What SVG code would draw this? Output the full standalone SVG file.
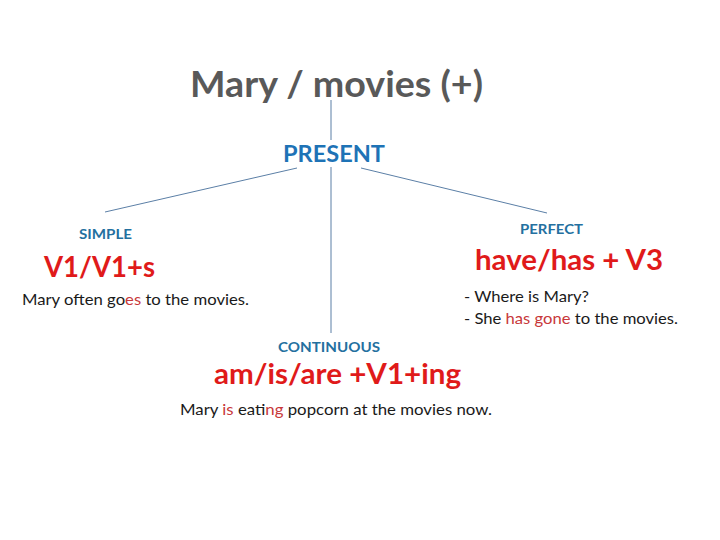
<svg xmlns="http://www.w3.org/2000/svg" width="720" height="540" viewBox="0 0 720 540">
<style>
text{font-family:Lato,"Open Sans","Liberation Sans",sans-serif}
.title{font-size:37px;font-weight:bold;fill:#595959}
.head{font-size:23px;font-weight:bold;fill:#1e73b6}
.sub{font-size:14px;fill:#24709f;font-weight:bold}
.form{font-size:28px;font-weight:bold;fill:#e01a1a}
.ex{font-size:16px;fill:#1a1a1a}
.hl{fill:#c8383a}
.conn line{stroke:#5b7fa6;stroke-width:1}
</style>
<rect width="720" height="540" fill="#ffffff"/>
<g class="conn">
<line x1="331" y1="100" x2="331" y2="140"/>
<line x1="331" y1="167" x2="331" y2="333"/>
<line x1="297" y1="168" x2="105" y2="212"/>
<line x1="361" y1="168" x2="547" y2="213"/>
</g>
<g id="title"><text class="title" x="190" y="97" textLength="293" lengthAdjust="spacingAndGlyphs">Mary / movies (+)</text></g>
<g id="present"><text class="head" x="283" y="162" textLength="102" lengthAdjust="spacingAndGlyphs">PRESENT</text></g>
<g id="simple">
<text class="sub" x="79" y="239" textLength="53" lengthAdjust="spacingAndGlyphs">SIMPLE</text>
<text class="form" x="44" y="277" textLength="111" lengthAdjust="spacingAndGlyphs">V1/V1+s</text>
<text class="ex" x="22" y="305" textLength="227" lengthAdjust="spacingAndGlyphs">Mary often go<tspan class="hl">es</tspan> to the movies.</text>
</g>
<g id="perfect">
<text class="sub" x="520" y="234" textLength="63" lengthAdjust="spacingAndGlyphs">PERFECT</text>
<text class="form" x="475" y="270" textLength="188" lengthAdjust="spacingAndGlyphs">have/has + V3</text>
<text class="ex" x="464" y="302" textLength="125" lengthAdjust="spacingAndGlyphs">- Where is Mary?</text>
<text class="ex" x="464" y="324" textLength="214" lengthAdjust="spacingAndGlyphs">- She <tspan class="hl">has gone</tspan> to the movies.</text>
</g>
<g id="continuous">
<text class="sub" x="278" y="352" textLength="102" lengthAdjust="spacingAndGlyphs">CONTINUOUS</text>
<text class="form" x="214" y="384" textLength="247" lengthAdjust="spacingAndGlyphs">am/is/are +V1+ing</text>
<text class="ex" x="180" y="415" textLength="312" lengthAdjust="spacingAndGlyphs">Mary <tspan class="hl">is</tspan> eat<tspan class="hl">ing</tspan> popcorn at the movies now.</text>
</g>
</svg>
